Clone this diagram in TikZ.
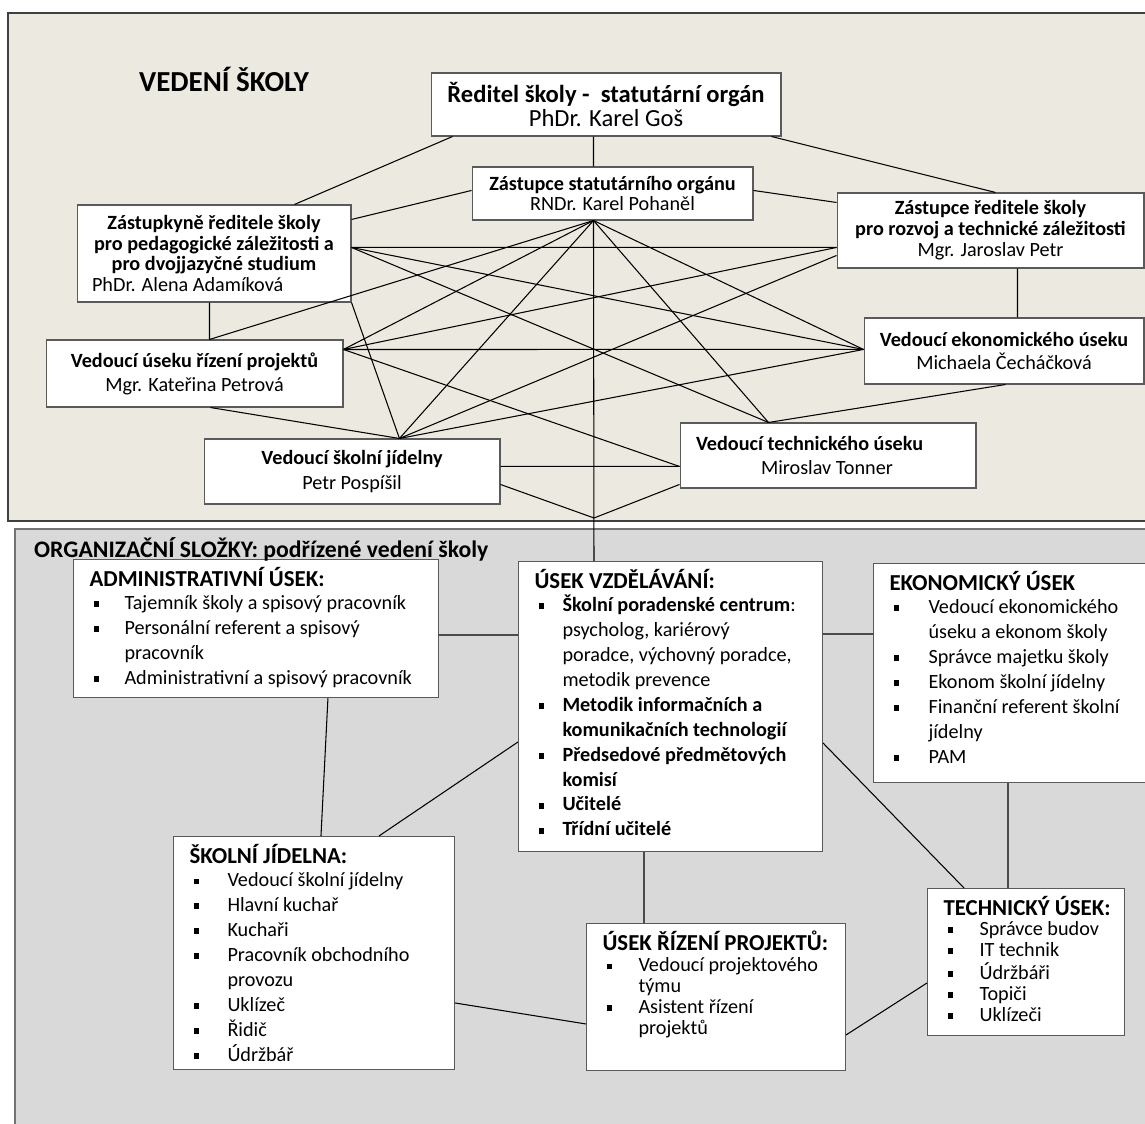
\documentclass[tikz,border=0pt]{standalone}
\usepackage{fontspec}
\setmainfont{Carlito}
\definecolor{topfill}{RGB}{236,233,224}
\definecolor{botfill}{RGB}{217,217,217}
\definecolor{boxline}{RGB}{90,90,90}
\newcommand{\bx}{\rule[1.3pt]{3.2pt}{3.2pt}}
\tikzset{
  head box/.style={
    draw=boxline,
    fill=white,
    line width=0.6pt,
    align=center,
    inner sep=0.1cm,
  },
  list box/.style={
    draw=boxline,
    fill=white,
    line width=0.6pt,
    anchor=north west,
    inner xsep=0.32cm,
    inner ysep=0.15cm,
    font=\fontsize{11.5}{14.2}\selectfont,
  },
  list title/.style={
    font=\bfseries\fontsize{13.5}{15}\selectfont,
  },
  link/.style={
    line width=0.6pt,
  }
}

\begin{document}
\begin{tikzpicture}[x=0.02cm, y=-0.02cm]
        \useasboundingbox (0,0) rectangle (1145,1124);
        \draw[black!75, line width=1.2pt, fill=topfill] (8,13) rectangle (1160,521);
        \draw[black!55, line width=1pt, fill=botfill] (15,529) rectangle (1160,1140);

        \node [font=\bfseries\fontsize{16.5}{18}\selectfont] (vedeni) at (224,79) {VEDENÍ ŠKOLY};

        \node [head box, minimum width=7cm, minimum height=1.26cm, font=\fontsize{14}{14.2}\selectfont] (red) at (606,104.5)
          {\textbf{Ředitel školy - \ statutární orgán}\\PhDr. Karel Goš};
        \node [head box, minimum width=5.62cm, minimum height=1.06cm, font=\fontsize{11.5}{11.9}\selectfont] (zso) at (612.5,193.5)
          {\textbf{Zástupce statutárního orgánu}\\RNDr. Karel Pohaněl};
        \node [head box, minimum width=5.48cm, minimum height=1.94cm, font=\fontsize{11.5}{11.7}\selectfont] (zrp) at (214,253.5)
          {\textbf{Zástupkyně ředitele školy}\\\textbf{pro pedagogické záležitosti a}\\\textbf{pro dvojjazyčné studium}\\\makebox[5.08cm][l]{\hspace{0.1cm}PhDr. Alena Adamíková}};
        \node [head box, minimum width=6.14cm, minimum height=1.5cm, font=\fontsize{11.5}{11.9}\selectfont] (zrt) at (990.5,230.5)
          {\textbf{Zástupce ředitele školy}\\\textbf{pro rozvoj a technické záležitosti}\\Mgr. Jaroslav Petr};
        \node [head box, minimum width=5.94cm, minimum height=1.34cm, font=\fontsize{11.5}{13.6}\selectfont] (vrp) at (194.5,373.5)
          {\textbf{Vedoucí úseku řízení projektů}\\Mgr. Kateřina Petrová};
        \node [head box, minimum width=5.6cm, minimum height=1.32cm, font=\fontsize{11.5}{13.6}\selectfont] (veu) at (1004,351)
          {\textbf{Vedoucí ekonomického úseku}\\Michaela Čecháčková};
        \node [head box, minimum width=5.92cm, minimum height=1.3cm, font=\fontsize{11.5}{14.7}\selectfont] (vsj) at (352,471.5)
          {\textbf{Vedoucí školní jídelny}\\Petr Pospíšil};
        \node [head box, align=left, minimum width=5.92cm, minimum height=1.3cm, font=\fontsize{11.5}{13.6}\selectfont] (vtu) at (828,455.5)
          {\makebox[5.28cm][l]{\textbf{Vedoucí technického úseku}}\\\hspace*{1.3cm}Miroslav Tonner};

        \node [list box] (adm) at (73,559) {\parbox[c][2.46cm][t]{6.66cm}{%
          \begin{tabular}[t]{@{\hspace{0.08cm}}p{0.62cm}@{}l@{}}
            \multicolumn{2}{@{}l@{}}{\bfseries\fontsize{13}{15}\selectfont ADMINISTRATIVNÍ ÚSEK:}\\[-1pt]
            \bx & Tajemník školy a spisový pracovník\\
            \bx & Personální referent a spisový\\
                & pracovník\\
            \bx & Administrativní a spisový pracovník
          \end{tabular}}};
        \node [list box] (vzd) at (518,561) {\parbox[c][5.5cm][t]{5.44cm}{%
          \begin{tabular}[t]{@{\hspace{0.08cm}}p{0.48cm}@{}l@{}}
            \multicolumn{2}{@{}l@{}}{\bfseries\fontsize{13}{15}\selectfont ÚSEK VZDĚLÁVÁNÍ:}\\[-1pt]
            \bx & \textbf{Školní poradenské centrum}:\\
                & psycholog, kariérový\\
                & poradce, výchovný poradce,\\
                & metodik prevence\\
            \bx & \textbf{Metodik informačních a}\\
                & \textbf{komunikačních technologií}\\
            \bx & \textbf{Předsedové předmětových}\\
                & \textbf{komisí}\\
            \bx & \textbf{Učitelé}\\
            \bx & \textbf{Třídní učitelé}
          \end{tabular}}};
        \node [list box] (eko) at (873,563) {\parbox[c][4.08cm][t]{4.8cm}{%
          \begin{tabular}[t]{@{\hspace{0.08cm}}p{0.7cm}@{}l@{}}
            \multicolumn{2}{@{}l@{}}{\bfseries\fontsize{13}{15}\selectfont EKONOMICKÝ ÚSEK}\\[-1pt]
            \bx & Vedoucí ekonomického\\
                & úseku a ekonom školy\\
            \bx & Správce majetku školy\\
            \bx & Ekonom školní jídelny\\
            \bx & Finanční referent školní\\
                & jídelny\\
            \bx & PAM
          \end{tabular}}};
        \node [list box] (sj) at (173,836) {\parbox[c][4.36cm][t]{4.98cm}{%
          \begin{tabular}[t]{@{\hspace{0.08cm}}p{0.68cm}@{}l@{}}
            \multicolumn{2}{@{}l@{}}{\bfseries\fontsize{13}{15}\selectfont ŠKOLNÍ JÍDELNA:}\\[-1pt]
            \bx & Vedoucí školní jídelny\\
            \bx & Hlavní kuchař\\
            \bx & Kuchaři\\
            \bx & Pracovník obchodního\\
                & provozu\\
            \bx & Uklízeč\\
            \bx & Řidič\\
            \bx & Údržbář
          \end{tabular}}};
        \node [list box, font=\fontsize{11.5}{11.9}\selectfont] (urp) at (586,923) {\parbox[c][2.64cm][t]{4.54cm}{%
          \begin{tabular}[t]{@{\hspace{0.08cm}}p{0.64cm}@{}l@{}}
            \multicolumn{2}{@{}l@{}}{\bfseries\fontsize{13}{15}\selectfont ÚSEK ŘÍZENÍ PROJEKTŮ:}\\[0pt]
            \bx & Vedoucí projektového\\
                & týmu\\
            \bx & Asistent řízení\\
                & projektů
          \end{tabular}}};
        \node [list box, font=\fontsize{11.5}{11.9}\selectfont] (tu) at (927,888) {\parbox[c][2.64cm][t]{3.3cm}{%
          \begin{tabular}[t]{@{\hspace{0.08cm}}p{0.64cm}@{}l@{}}
            \multicolumn{2}{@{}l@{}}{\bfseries\fontsize{13}{15}\selectfont TECHNICKÝ ÚSEK:}\\[-0.5pt]
            \bx & Správce budov\\
            \bx & IT technik\\
            \bx & Údržbáři\\
            \bx & Topiči\\
            \bx & Uklízeči
          \end{tabular}}};

        \node [list title, anchor=base west] (slozky) at (28,557) {ORGANIZAČNÍ SLOŽKY: podřízené vedení školy};

        \coordinate (zs) at ([xshift=2.44cm]zso.south west);
        \coordinate (ar) at ([yshift=-0.86cm]zrp.north east);
        \coordinate (bl) at ([yshift=-1.1cm]zrt.north west);
        \coordinate (bl2) at ([yshift=-1.26cm]zrt.north west);
        \coordinate (pt) at ([xshift=3.28cm]vrp.north west);
        \coordinate (pr) at ([yshift=-0.2cm]vrp.north east);
        \coordinate (el) at ([yshift=-0.64cm]veu.north west);
        \coordinate (jt) at ([xshift=3.92cm]vsj.north west);
        \coordinate (tt) at ([xshift=1.78cm]vtu.north west);
        \coordinate (tl) at ([yshift=-0.88cm]vtu.north west);
        \coordinate (v) at (594,518);

        \draw [link] ([xshift=0.44cm]red.south west) -- ([xshift=4.36cm]zrp.north west);
        \draw [link] ([xshift=3.26cm]red.south west) -- ([xshift=2.44cm]zso.north west);
        \draw [link] ([xshift=-0.2cm]red.south east) -- ([xshift=3.18cm]zrt.north west);
        \draw [link] ([yshift=-0.3cm]zrp.north east) -- ([yshift=-0.48cm]zso.north west);
        \draw [link] ([yshift=-0.48cm]zso.north east) -- ([yshift=-0.2cm]zrt.north west);
        \draw [link] (zs) -- ([xshift=1.52cm]vzd.north west);
        \foreach \t in {pt,pr,jt,el,tt}
          \draw [link] (zs) -- (\t);
        \foreach \t in {bl,el,tt}
          \draw [link] (ar) -- (\t);
        \draw [link] ([xshift=2.66cm]zrp.south west) -- (pt);
        \draw [link] (zrp.south east) -- (jt);
        \draw [link] (bl) -- (pr);
        \draw [link] (bl2) -- (jt);
        \draw [link] ([xshift=3.62cm]zrt.south west) -- ([xshift=3.08cm]veu.north west);
        \draw [link] (pr) -- (el);
        \draw [link] (pr) -- (tl);
        \draw [link] ([xshift=3.3cm]vrp.south west) -- (jt);
        \draw [link] ([xshift=2.84cm]veu.south west) -- (tt);
        \draw [link] (jt) -- (el);
        \draw [link] ([yshift=-0.56cm]vsj.north east) -- (tl);
        \draw [link] ([yshift=-0.92cm]vsj.north east) -- (v) -- ([yshift=-1.24cm]vtu.north west);

        \draw [link] ([yshift=-1.52cm]adm.north east) -- ([yshift=-1.48cm]vzd.north west);
        \draw [link] ([yshift=-1.46cm]vzd.north east) -- ([yshift=-1.42cm]eko.north west);
        \draw [link] ([xshift=5.1cm]adm.south west) -- ([xshift=2.96cm]sj.north west);
        \draw [link] ([yshift=-3.62cm]vzd.north west) -- ([xshift=4.12cm]sj.north west);
        \draw [link] ([xshift=2.52cm]vzd.south west) -- ([xshift=1.16cm]urp.north west);
        \draw [link] ([yshift=-3.64cm]vzd.north east) -- ([xshift=0.74cm]tu.north west);
        \draw [link] ([xshift=2.7cm]eko.south west) -- ([xshift=1.62cm]tu.north west);
        \draw [link] ([yshift=-3.34cm]sj.north east) -- ([yshift=-2.02cm]urp.north west);
        \draw [link] ([yshift=-2.24cm]urp.north east) -- ([yshift=-1.9cm]tu.north west);
\end{tikzpicture}
\end{document}
